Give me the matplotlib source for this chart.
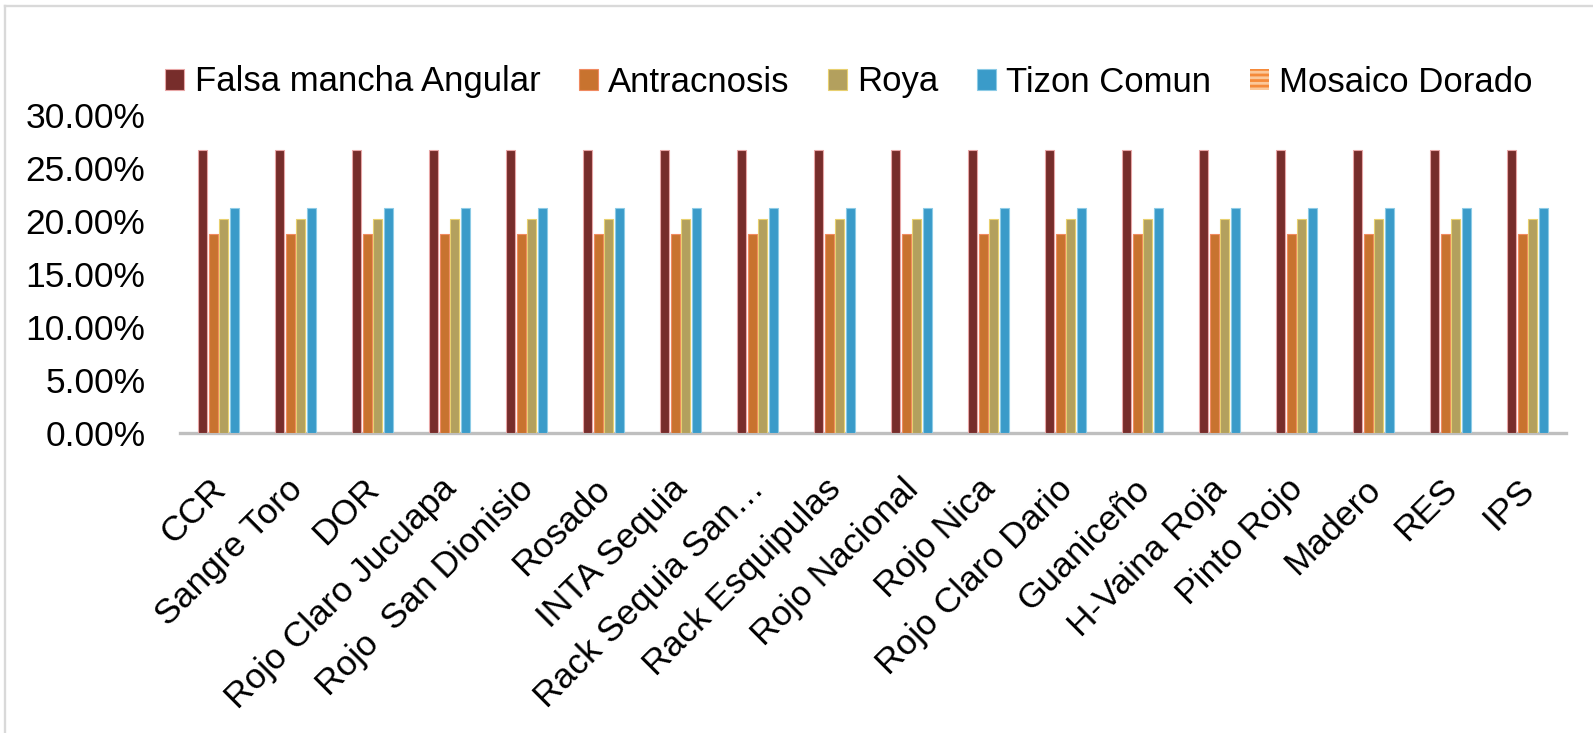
import matplotlib
matplotlib.use("Agg")
import matplotlib.pyplot as plt
from matplotlib.patches import Patch
from matplotlib.lines import Line2D
import numpy as np

categories = ["CCR", "Sangre Toro", "DOR", "Rojo Claro Jucuapa", "Rojo  San Dionisio",
              "Rosado", "INTA Sequia", "Rack Sequia San\u2026", "Rack Esquipulas",
              "Rojo Nacional", "Rojo Nica", "Rojo Claro Dario", "Guanice\u00f1o",
              "H-Vaina Roja", "Pinto Rojo", "Madero", "RES", "IPS"]
falsa_mancha = [0.2667] * 18
antracnosis = [0.1875] * 18
roya = [0.2020] * 18
tizon_comun = [0.2121] * 18
mosaico_dorado = [0.0] * 18
series_names = ["Falsa mancha Angular", "Antracnosis", "Roya", "Tizon Comun", "Mosaico Dorado"]
yticks = [0.0, 0.05, 0.10, 0.15, 0.20, 0.25, 0.30]

plt.rcParams['font.family'] = ['Liberation Sans', 'DejaVu Sans']
plt.rcParams['hatch.linewidth'] = 2.0

W, H = 1593, 733
fig = plt.figure(figsize=(W / 100, H / 100), dpi=100)
ax = fig.add_axes([180 / W, 1 - 433.3 / H, (1566 - 180) / W, (433.3 - 115) / H])

colors = ["#772d2b", "#c8732f", "#b3a05e", "#3a9bc9"]
edges = ["#e8a6a6", "#f08a60", "#e8d070", "#8ccbe6"]
x = np.arange(len(categories))
bw = 0.117
pitch = 0.14
data = [falsa_mancha, antracnosis, roya, tizon_comun]
for k, (vals, c, e) in enumerate(zip(data, colors, edges)):
    ax.bar(x + (k - 1.5) * pitch, vals, width=bw, color=c, edgecolor=e, linewidth=0.8, zorder=3)

ax.set_xlim(-0.5, len(categories) - 0.5)
ax.set_ylim(0, 0.30)
ax.set_yticks(yticks)
ax.set_yticklabels([f"{v*100:.2f}%" for v in yticks], fontsize=25.5)
# label anchors nudged slightly left of the cluster centres (ticks are invisible)
ax.set_xticks(x - 0.13)
ax.set_xticklabels(categories, rotation=45, ha='right', rotation_mode='anchor', fontsize=25.5)
ax.tick_params(axis='both', length=0)
ax.tick_params(axis='y', pad=25)
ax.tick_params(axis='x', pad=28)
for s in ['top', 'right', 'left']:
    ax.spines[s].set_visible(False)
ax.spines['bottom'].set_color('#bfbfbf')
ax.spines['bottom'].set_linewidth(2.4)

handles = [Patch(facecolor=c, edgecolor=e, linewidth=0.8) for c, e in zip(colors, edges)]
handles.append(Patch(facecolor="#fbc89a", edgecolor="#f58a3a", hatch='---', linewidth=0))
leg = fig.legend(handles, series_names, loc='center', bbox_to_anchor=(849 / W, 1 - 82 / H),
                 ncol=5, frameon=False, fontsize=25, handlelength=0.55, handleheight=0.55,
                 handletextpad=0.3, columnspacing=1.1, borderpad=0)

fig.add_artist(Line2D([4.5 / W, 4.5 / W], [0, 1 - 6 / H], transform=fig.transFigure,
                      color='#d9d9d9', linewidth=1.7))
fig.add_artist(Line2D([4.5 / W, 1], [1 - 6 / H, 1 - 6 / H], transform=fig.transFigure,
                      color='#d9d9d9', linewidth=1.7))

fig.savefig("out.png", dpi=100, facecolor='white')
